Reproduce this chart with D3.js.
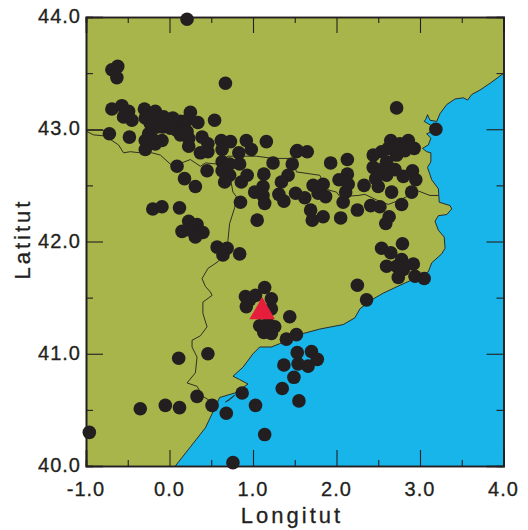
<!DOCTYPE html>
<html>
<head>
<meta charset="utf-8">
<script src="https://cdn.jsdelivr.net/npm/d3@7"></script>
<style>
  html, body { margin: 0; padding: 0; background: #fff; }
  text { font-family: "Liberation Sans", Arial, sans-serif; fill: #231f20; stroke: #231f20; stroke-width: 0.3px; }
</style>
</head>
<body>
<div id="map"></div>
<script>
// longitude, latitude
const events = [
  [0.21,43.98],[-0.62,43.56],[-0.69,43.53],[-0.63,43.46],[0.67,43.41],[-0.69,43.18],[-0.57,43.21],[-0.49,43.16],
  [-0.55,43.11],[-0.45,43.08],[-0.30,43.18],[-0.29,43.10],[-0.17,43.16],[-0.17,43.07],[-0.07,43.11],[0.04,43.10],
  [-0.01,43.06],[0.25,43.15],[0.13,43.07],[0.21,43.08],[0.34,43.06],[0.54,43.08],[-0.72,42.96],[-0.48,42.93],
  [-0.25,42.96],[-0.29,42.90],[-0.09,42.90],[-0.17,42.87],[-0.29,42.82],[-0.21,42.92],[-0.15,43.02],[0.09,42.99],
  [0.21,42.98],[0.13,42.95],[0.23,42.92],[0.23,42.85],[0.39,42.93],[0.46,42.87],[0.37,42.79],[0.46,42.80],
  [0.62,42.90],[0.73,42.89],[0.63,42.82],[0.83,42.79],[0.92,42.90],[0.98,42.82],[1.16,42.89],[1.52,42.80],
  [0.09,42.67],[0.45,42.63],[0.63,42.71],[0.72,42.69],[0.84,42.69],[1.24,42.70],[1.47,42.69],[0.63,42.63],
  [0.72,42.59],[0.66,42.53],[0.86,42.53],[0.93,42.59],[1.13,42.60],[1.42,42.59],[1.34,42.53],[1.12,42.49],
  [1.02,42.44],[1.12,42.41],[1.14,42.34],[1.31,42.42],[1.37,42.36],[1.51,42.43],[0.85,42.35],[0.18,42.56],
  [0.31,42.49],[-0.20,42.29],[-0.09,42.31],[0.12,42.30],[1.05,42.19],[0.23,42.18],[0.33,42.15],[0.15,42.09],
  [0.25,42.10],[0.40,42.08],[0.31,42.04],[0.01,43.01],[-0.08,43.02],[-0.23,43.05],
  [2.72,43.19],[3.19,43.00],[2.65,42.90],[2.86,42.90],[2.93,42.83],[2.76,42.87],[2.82,42.81],[2.72,42.77],
  [2.62,42.83],[2.54,42.80],[2.44,42.77],[2.60,42.71],[2.44,42.66],[2.56,42.65],[2.70,42.64],[2.60,42.59],
  [2.91,42.63],[2.80,42.58],[2.95,42.55],[2.47,42.56],[2.50,42.49],[2.66,42.44],[2.90,42.44],[2.33,42.50],
  [1.53,42.81],[1.65,42.80],[1.93,42.70],[2.13,42.73],[2.13,42.60],[2.03,42.55],[2.14,42.51],[2.11,42.44],
  [2.08,42.35],[1.72,42.50],[1.84,42.51],[1.78,42.43],[1.87,42.40],[1.62,42.39],[1.69,42.28],[1.71,42.19],
  [1.84,42.22],[2.05,42.21],[2.25,42.28],[2.41,42.32],[2.52,42.31],[2.78,42.33],[2.63,42.22],[2.59,42.16],
  [2.79,41.98],[2.54,41.94],[2.65,41.90],[2.78,41.84],[2.92,41.80],[2.60,41.78],[2.72,41.78],[2.80,41.75],
  [2.74,41.68],[2.94,41.69],[3.05,41.67],[2.25,41.61],[2.36,41.48],
  [0.57,41.95],[0.69,41.94],[0.64,41.88],[0.84,41.89],[1.14,41.59],[0.91,41.51],[1.03,41.52],[1.22,41.49],
  [0.92,41.42],[1.22,41.40],[0.96,41.48],[1.44,41.33],[1.08,41.25],[1.13,41.19],[1.26,41.24],[1.22,41.18],
  [1.18,41.27],[1.52,41.17],[1.40,41.13],[1.53,41.01],[1.70,41.02],[1.77,40.95],[1.66,40.89],[1.54,40.91],
  [1.37,40.90],[1.49,40.79],[1.35,40.69],[1.55,40.58],[1.14,40.28],[1.03,40.54],[0.87,40.65],[0.68,40.47],
  [0.51,40.54],[0.33,40.62],[0.46,41.00],[0.11,40.96],[-0.05,40.54],[0.12,40.52],[-0.35,40.51],[-0.96,40.30],
  [0.76,40.03]
];
const station = [1.11, 41.374];

// coast from the top right corner down to the Ebre and the south
const coast = [
  [4.04,43.52],[3.84,43.41],[3.72,43.35],[3.62,43.31],[3.57,43.26],[3.52,43.28],[3.42,43.27],[3.32,43.22],
  [3.24,43.14],[3.20,43.07],[3.12,43.08],[3.09,43.13],[3.07,43.09],[3.05,43.07],[3.12,43.04],[3.18,42.99],
  [3.08,42.96],[3.13,42.92],[3.10,42.86],[3.03,42.83],[3.08,42.80],[3.13,42.79],[3.13,42.71],[3.09,42.66],
  [3.14,42.55],[3.22,42.47],[3.23,42.35],[3.36,42.32],[3.38,42.29],[3.32,42.24],[3.22,42.23],[3.18,42.18],
  [3.22,42.10],[3.29,42.04],[3.30,41.94],[3.26,41.89],[3.14,41.81],[3.10,41.73],[2.94,41.67],[2.76,41.61],
  [2.56,41.54],[2.42,41.48],[2.28,41.40],[2.22,41.32],[2.08,41.26],[1.80,41.22],[1.60,41.18],[1.32,41.09],
  [1.22,41.06],[1.08,41.06],[1.00,41.00],[0.88,40.88],[0.76,40.80],[0.84,40.77],[0.94,40.73],[0.84,40.68],
  [0.78,40.65],[0.60,40.61],[0.57,40.56],[0.43,40.34],[0.25,40.17],[0.07,40.00]
];
const seaCorners = [[4.1,39.9],[4.1,43.5]];
const deltaSpit = [[0.67,40.57],[0.78,40.63],[0.72,40.59]];

const frenchBorder = [
  [-0.99,42.98],[-0.91,42.95],[-0.77,42.94],[-0.69,42.90],[-0.61,42.86],[-0.55,42.79],[-0.47,42.80],[-0.35,42.79],
  [-0.21,42.79],[-0.11,42.77],[0.01,42.69],[0.11,42.69],[0.25,42.73],[0.37,42.67],[0.43,42.70],[0.57,42.69],
  [0.70,42.76],[1.04,42.76],[1.24,42.74],[1.48,42.74],[1.52,42.62],[1.80,42.59],[1.82,42.56],[1.90,42.46],
  [2.00,42.44],[2.04,42.40],[2.26,42.41],[2.34,42.42],[2.48,42.37],[2.62,42.33],[2.76,42.37],[2.98,42.45],
  [3.12,42.41],[3.22,42.41]
];
const topBorder = [[-1.0,42.99],[-0.71,42.99]];
const aragonBorder = [
  [0.71,42.68],[0.74,42.52],[0.76,42.44],[0.80,42.40],[0.78,42.30],[0.72,42.16],[0.70,42.01],[0.69,41.92],
  [0.58,41.82],[0.46,41.76],[0.39,41.67],[0.43,41.60],[0.49,41.55],[0.51,41.52],[0.40,41.46],[0.40,41.36],
  [0.45,41.24],[0.37,41.16],[0.27,41.12],[0.27,41.06],[0.33,40.97],[0.31,40.83],[0.21,40.74],[0.33,40.71],
  [0.40,40.62],[0.51,40.57]
];

const lonMajor = [-1, 0, 1, 2, 3, 4];
const lonMinor = [-0.5, 0.5, 1.5, 2.5, 3.5];
const latMajor = [40, 41, 42, 43, 44];
const latMinor = [40.5, 41.5, 42.5, 43.5];

const width = 528, height = 530;
const left = 86, right = 503.5, top_ = 17, bottom = 466;
const ink = "#231f20";

const x = d3.scaleLinear().domain([-1, 4]).range([left, right]);
const y = d3.scaleLinear().domain([40, 44]).range([bottom, top_]);

const svg = d3.select("#map").append("svg")
    .attr("width", width)
    .attr("height", height)
    .style("display", "block");

svg.append("clipPath").attr("id", "frame")
  .append("rect")
    .attr("x", left).attr("y", top_)
    .attr("width", right - left).attr("height", bottom - top_);

svg.append("rect")
    .attr("x", left).attr("y", top_)
    .attr("width", right - left).attr("height", bottom - top_)
    .attr("fill", "#a8b54b");

const line = d3.line().x(d => x(d[0])).y(d => y(d[1]));
const map = svg.append("g").attr("clip-path", "url(#frame)");

map.append("path")
    .attr("d", line(coast.concat(seaCorners)) + "Z")
    .attr("fill", "#17b5e9");
map.append("path")
    .attr("d", line(coast))
    .attr("fill", "none").attr("stroke", ink).attr("stroke-width", 0.9);
map.append("path")
    .attr("d", line(deltaSpit) + "Z")
    .attr("fill", "#a8b54b").attr("stroke", ink).attr("stroke-width", 0.8);

map.selectAll("path.border")
    .data([frenchBorder, topBorder, aragonBorder])
    .enter()
    .append("path")
    .attr("class", "border")
    .attr("d", line)
    .attr("fill", "none")
    .attr("stroke", ink)
    .attr("stroke-width", 0.9);

// ticks point inward on all four sides, only bottom and left carry labels
function ticks(axis, values, len) {
  return axis.tickValues(values).tickSize(len).tickFormat("");
}
const bx = svg.append("g").attr("transform", `translate(0,${bottom})`);
bx.call(ticks(d3.axisBottom(x), lonMinor, -6));
const bx2 = svg.append("g").attr("transform", `translate(0,${bottom})`);
bx2.call(ticks(d3.axisBottom(x), lonMajor, -16));
const tx = svg.append("g").attr("transform", `translate(0,${top_})`);
tx.call(ticks(d3.axisTop(x), lonMinor, -6));
const tx2 = svg.append("g").attr("transform", `translate(0,${top_})`);
tx2.call(ticks(d3.axisTop(x), lonMajor, -16));
const ly = svg.append("g").attr("transform", `translate(${left},0)`);
ly.call(ticks(d3.axisLeft(y), latMinor, -7));
const ly2 = svg.append("g").attr("transform", `translate(${left},0)`);
ly2.call(ticks(d3.axisLeft(y), latMajor, -17));
const ry = svg.append("g").attr("transform", `translate(${right},0)`);
ry.call(ticks(d3.axisRight(y), latMinor, -7));
const ry2 = svg.append("g").attr("transform", `translate(${right},0)`);
ry2.call(ticks(d3.axisRight(y), latMajor, -17));

svg.selectAll(".domain").attr("stroke", ink).attr("stroke-width", 1.6);
svg.selectAll(".tick line").attr("stroke", ink).attr("stroke-width", 1.1);

svg.selectAll("circle.event")
    .data(events)
    .enter()
    .append("circle")
    .attr("class", "event")
    .attr("cx", d => x(d[0]))
    .attr("cy", d => y(d[1]))
    .attr("r", 6.8)
    .attr("fill", ink);

svg.append("path")
    .attr("d", d3.symbol(d3.symbolTriangle, 285))
    .attr("transform", `translate(${x(station[0])},${y(station[1])})`)
    .attr("fill", "#e61e3c");

// plain hyphen on -1.0, as on the printed map
const fmt = v => d3.format(".1f")(v).replace("\u2212", "-");
svg.selectAll("text.lon")
    .data(lonMajor)
    .enter()
    .append("text")
    .attr("class", "lon")
    .attr("x", d => x(d))
    .attr("y", 496)
    .attr("text-anchor", "middle")
    .attr("font-size", 20)
    .attr("letter-spacing", 1)
    .text(fmt);

svg.selectAll("text.lat")
    .data(latMajor)
    .enter()
    .append("text")
    .attr("class", "lat")
    .attr("x", 81)
    .attr("y", d => y(d) + 6)
    .attr("text-anchor", "end")
    .attr("font-size", 20)
    .attr("letter-spacing", 1)
    .text(fmt);

svg.append("text")
    .attr("x", 292)
    .attr("y", 523)
    .attr("text-anchor", "middle")
    .attr("font-size", 22)
    .attr("letter-spacing", 3)
    .text("Longitut");

svg.append("text")
    .attr("transform", "translate(30,239) rotate(-90)")
    .attr("text-anchor", "middle")
    .attr("font-size", 22)
    .attr("letter-spacing", 3)
    .text("Latitut");
</script>
</body>
</html>
